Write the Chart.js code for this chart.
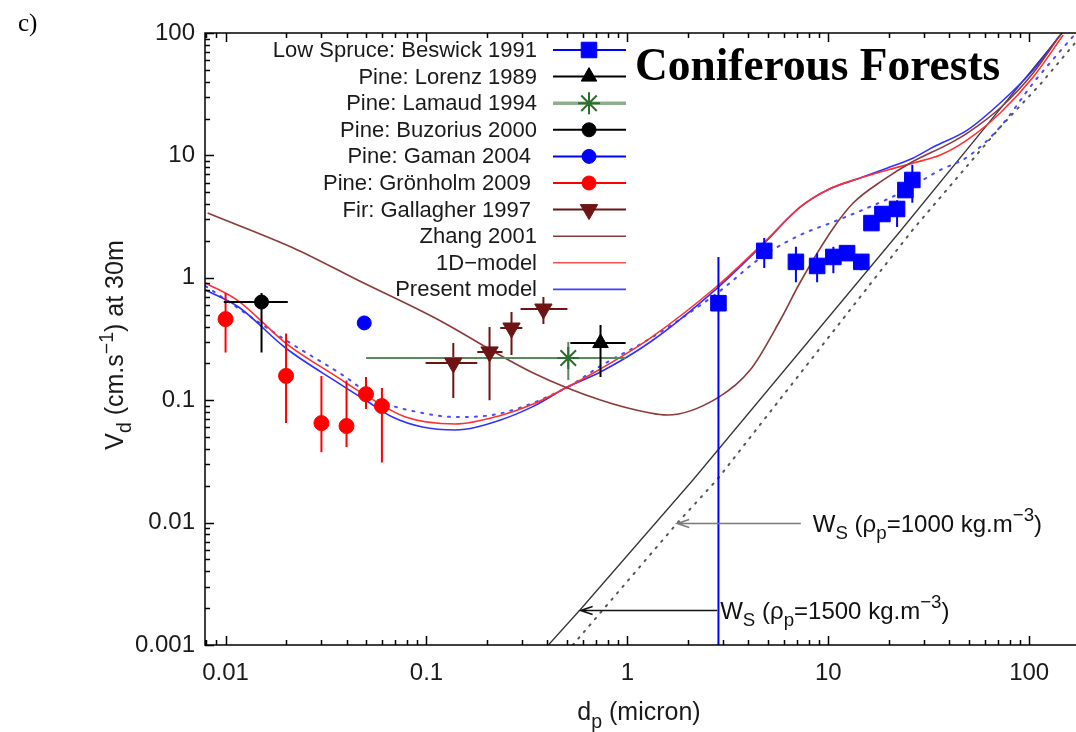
<!DOCTYPE html>
<html>
<head>
<meta charset="utf-8">
<script src="https://cdn.jsdelivr.net/npm/chart.js@4.4.1/dist/chart.umd.min.js"></script>
<style>
  html, body { margin: 0; padding: 0; background: #fff; overflow: hidden; }
  #wrap { position: relative; width: 1076px; height: 732px; }
</style>
</head>
<body>
<div id="wrap"><canvas id="vdChart"></canvas></div>
<script>
// axes
const xRange = [0.0079, 171];
const yRange = [0.001, 100];
const xTickVals = [0.01, 0.1, 1, 10, 100];
const xTickLabels = ['0.01', '0.1', '1', '10', '100'];
const yTickVals = [0.001, 0.01, 0.1, 1, 10, 100];
const yTickLabels = ['0.001', '0.01', '0.1', '1', '10', '100'];

// Low Spruce: Beswick 1991
const beswickX  = [2.84, 4.8, 6.9, 8.8, 10.6, 12.4, 14.6, 16.4, 18.6, 22.0, 24.2, 26.2];
const beswickY  = [0.62, 1.66, 1.35, 1.25, 1.48, 1.59, 1.35, 2.8, 3.32, 3.65, 5.21, 6.3];
const beswickLo = [0.0008, 1.2, 0.92, 0.92, 1.09, 1.45, 1.15, 2.55, 3.0, 2.6, 4.7, 4.1];
const beswickHi = [1.48, 2.11, 1.79, 1.59, 1.79, 1.75, 1.5, 3.1, 3.6, 4.3, 5.7, 8.4];

// Pine: Lorenz 1989
const lorenzX = [0.735], lorenzY = [0.293];
const lorenzLo = [0.155], lorenzHi = [0.411];
const lorenzXLo = [0.52], lorenzXHi = [0.98];

// Pine: Lamaud 1994
const lamaudX = [0.508], lamaudY = [0.221];
const lamaudLo = [0.146], lamaudHi = [0.299];
const lamaudXLo = [0.05], lamaudXHi = [0.98];

// Pine: Buzorius 2000
const buzoriusX = [0.0151], buzoriusY = [0.634];
const buzoriusLo = [0.245], buzoriusHi = [0.751];
const buzoriusXLo = [0.0098], buzoriusXHi = [0.0204];

// Pine: Gaman 2004
const gamanX = [0.049], gamanY = [0.428];

// Pine: Grönholm 2009
const gronX  = [0.01, 0.02, 0.03, 0.04, 0.05, 0.06];
const gronY  = [0.46, 0.158, 0.065, 0.0615, 0.112, 0.0896];
const gronLo = [0.245, 0.065, 0.0375, 0.0415, 0.0848, 0.031];
const gronHi = [0.751, 0.35, 0.158, 0.145, 0.155, 0.126];

// Fir: Gallagher 1997
const gallX   = [0.136, 0.206, 0.265, 0.382];
const gallY   = [0.201, 0.248, 0.389, 0.556];
const gallLo  = [0.104, 0.100, 0.234, 0.42];
const gallHi  = [0.293, 0.396, 0.526, 0.697];
const gallXLo = [0.099, 0.179, 0.233, 0.294];
const gallXHi = [0.179, 0.239, 0.30, 0.503];

// model curves
const zhangX = [0.00814, 0.0228, 0.0454, 0.108, 0.34, 0.734, 1.30, 1.58, 2.80, 4.09, 5.77, 7.26, 10.6, 13.3, 18.8, 25.6, 40.5, 49.2, 71.7, 104.7, 142.6];
const zhangY = [3.38, 1.69, 0.96, 0.478, 0.167, 0.1004, 0.0786, 0.0757, 0.104, 0.177, 0.452, 0.924, 2.55, 4.08, 6.3, 8.67, 12.6, 15.2, 24.4, 47.1, 96.3];

const oneDX = [0.00795, 0.0116, 0.0199, 0.0365, 0.0497, 0.0786, 0.139, 0.2335, 0.34, 0.503, 0.734, 1.30, 2.80, 4.75, 7.26, 9.89, 14.4, 19.7, 26.5, 36.1, 49.2, 71.7, 104.7, 147.6];
const oneDY = [0.907, 0.646, 0.293, 0.152, 0.110, 0.0729, 0.0639, 0.075, 0.093, 0.128, 0.18, 0.322, 0.857, 1.92, 3.79, 5.22, 6.54, 7.6, 8.67, 10.08, 13.4, 22.2, 43.7, 96.3];

const presX = [0.00795, 0.0116, 0.0199, 0.0365, 0.0497, 0.0677, 0.0955, 0.139, 0.2335, 0.34, 0.503, 0.734, 1.30, 2.80, 4.75, 7.26, 9.89, 14.4, 19.7, 26.5, 33.3, 49.2, 71.7, 104.7, 142.6];
const presY = [0.795, 0.577, 0.267, 0.138, 0.100, 0.0729, 0.0604, 0.0571, 0.069, 0.089, 0.128, 0.170, 0.299, 0.825, 1.89, 3.79, 5.22, 6.54, 7.89, 9.52, 11.7, 16.1, 26.8, 49.9, 96.3];

const dotX = [0.00795, 0.0199, 0.0395, 0.0577, 0.0955, 0.139, 0.2335, 0.503, 0.734, 1.30, 2.80, 4.75, 7.26, 10.59, 15.63, 22.8, 36.1, 49.2, 71.7, 104.7, 154.6, 171];
const dotY = [0.857, 0.31, 0.155, 0.100, 0.0786, 0.0729, 0.078, 0.128, 0.19, 0.32, 0.751, 1.51, 2.24, 2.86, 3.72, 4.93, 7.6, 9.70, 17.06, 39.0, 82.8, 100];

// settling velocity lines
const ws1500X = [0.4045, 0.5836, 2.13, 22.8, 71.7, 146];
const ws1500Y = [0.001, 0.00195, 0.0225, 2.4, 24, 100];
const ws1000X = [0.535, 1.77, 2.80, 26.5, 71.7, 113.4, 171.4];
const ws1000Y = [0.001, 0.0099, 0.0225, 2.5, 17, 38, 85];

// arrow annotations (1000, 1500)
const wsDensity = ['1000', '1500'];
const wsArrowY = [0.0099, 0.00193];
const wsArrowTipX = [1.77, 0.585];
const wsArrowTailX = [7.3, 2.8];

function zip(xs, ys) {
    return xs.map((x, i) => ({ x: x, y: ys[i] }));
}

// error bars as broken line segments
function errorBars(xs, ys, lo, hi, xlo, xhi) {
    const pts = [];
    xs.forEach((x, i) => {
        if (lo) pts.push({ x: x, y: lo[i] }, { x: x, y: hi[i] }, { x: x, y: null });
        if (xlo) pts.push({ x: xlo[i], y: ys[i] }, { x: xhi[i], y: ys[i] }, { x: x, y: null });
    });
    return pts;
}

function markerSet(label, xs, ys, style, color, radius, rotation) {
    return {
        label: label,
        data: zip(xs, ys),
        pointStyle: style,
        pointRadius: radius,
        pointRotation: rotation || 0,
        backgroundColor: color,
        borderColor: color,
        borderWidth: style === 'star' ? 2 : 1,
        showLine: false,
        order: 0
    };
}

function barSet(data, color, width) {
    return {
        data: data,
        showLine: true,
        spanGaps: false,
        pointRadius: 0,
        borderColor: color,
        borderWidth: width || 2,
        tension: 0,
        order: 1
    };
}

function curveSet(label, xs, ys, color, width, dash) {
    return {
        label: label,
        data: zip(xs, ys),
        showLine: true,
        pointRadius: 0,
        borderColor: color,
        borderWidth: width,
        borderDash: dash || [],
        borderCapStyle: dash ? 'round' : 'butt',
        cubicInterpolationMode: 'monotone',
        order: 2
    };
}

const datasets = [
    markerSet('Low Spruce: Beswick 1991', beswickX, beswickY, 'rect', '#0000ff', 11),
    markerSet('Pine: Lorenz 1989', lorenzX, lorenzY, 'triangle', '#000000', 9),
    markerSet('Pine: Lamaud 1994', lamaudX, lamaudY, 'star', '#2d6e2d', 11),
    markerSet('Pine: Buzorius 2000', buzoriusX, buzoriusY, 'circle', '#000000', 7),
    markerSet('Pine: Gaman 2004', gamanX, gamanY, 'circle', '#0000ff', 7),
    markerSet('Pine: Grönholm 2009', gronX, gronY, 'circle', '#ff0000', 7.5),
    markerSet('Fir: Gallagher 1997', gallX, gallY, 'triangle', '#6e1414', 10, 180),
    barSet(errorBars(beswickX, beswickY, beswickLo, beswickHi), '#0000ff'),
    barSet(errorBars(lorenzX, lorenzY, lorenzLo, lorenzHi, lorenzXLo, lorenzXHi), '#000000'),
    barSet(errorBars(lamaudX, lamaudY, lamaudLo, lamaudHi, lamaudXLo, lamaudXHi), '#5a8a5a'),
    barSet(errorBars(buzoriusX, buzoriusY, buzoriusLo, buzoriusHi, buzoriusXLo, buzoriusXHi), '#000000'),
    barSet(errorBars(gronX, gronY, gronLo, gronHi), '#ff0000'),
    barSet(errorBars(gallX, gallY, gallLo, gallHi, gallXLo, gallXHi), '#6e1414'),
    curveSet('Zhang 2001', zhangX, zhangY, '#8b3a3a', 1.6),
    curveSet('1D-model', oneDX, oneDY, '#ff3030', 1.6),
    curveSet('Present model', presX, presY, '#3030ff', 1.6),
    curveSet('dotted', dotX, dotY, '#4a4aff', 2, [2, 7]),
    curveSet('Ws 1500', ws1500X, ws1500Y, '#333333', 1.3),
    curveSet('Ws 1000', ws1000X, ws1000Y, '#555555', 2, [1.5, 7])
];
datasets[datasets.length - 1].cubicInterpolationMode = 'default';
datasets[datasets.length - 2].cubicInterpolationMode = 'default';

// legend rows: label, line colour, marker
const legendRows = [
    { text: 'Low Spruce: Beswick 1991', line: '#0000ff', lw: 2, marker: { pointStyle: 'rect', radius: 11, color: '#0000ff' } },
    { text: 'Pine: Lorenz 1989', line: '#000000', lw: 2, marker: { pointStyle: 'triangle', radius: 9, color: '#000000' } },
    { text: 'Pine: Lamaud 1994', line: '#8fae8f', lw: 3.5, marker: { pointStyle: 'star', radius: 11, color: '#2d6e2d', bw: 2 } },
    { text: 'Pine: Buzorius 2000', line: '#000000', lw: 2, marker: { pointStyle: 'circle', radius: 7, color: '#000000' } },
    { text: 'Pine: Gaman 2004 ', line: '#0000ff', lw: 2, marker: { pointStyle: 'circle', radius: 7, color: '#0000ff' } },
    { text: 'Pine: Grönholm 2009 ', line: '#ff0000', lw: 2, marker: { pointStyle: 'circle', radius: 7, color: '#ff0000' } },
    { text: 'Fir: Gallagher 1997 ', line: '#6e1414', lw: 2, marker: { pointStyle: 'triangle', radius: 10, rotation: 180, color: '#6e1414' } },
    { text: 'Zhang 2001', line: '#8b3a3a', lw: 1.6 },
    { text: '1D\u2212model', line: '#ff5050', lw: 1.6 },
    { text: 'Present model', line: '#4040ff', lw: 1.6 }
];

const FONT = '"Liberation Sans", Arial, sans-serif';

function richWidth(ctx, parts, size) {
    let w = 0;
    parts.forEach(p => {
        ctx.font = (p[1] ? size * 0.78 : size) + 'px ' + FONT;
        w += ctx.measureText(p[0]).width;
    });
    return w;
}

function drawRich(ctx, parts, x, y, size, align) {
    const w = richWidth(ctx, parts, size);
    let cx = align === 'center' ? x - w / 2 : x;
    ctx.textBaseline = 'alphabetic';
    ctx.textAlign = 'left';
    parts.forEach(p => {
        ctx.font = (p[1] ? size * 0.78 : size) + 'px ' + FONT;
        let dy = 0;
        if (p[1] === 'sub') dy = size * 0.3;
        if (p[1] === 'sup') dy = -size * 0.42;
        ctx.fillText(p[0], cx, y + dy);
        cx += ctx.measureText(p[0]).width;
    });
}

const decorPlugin = {
    id: 'decor',
    afterDatasetsDraw(chart) {
        const ctx = chart.ctx;
        const xs = chart.scales.x, ys = chart.scales.y;
        ctx.save();

        // settling velocity arrows + labels
        wsDensity.forEach((d, i) => {
            const py = Math.round(ys.getPixelForValue(wsArrowY[i])) + 0.5;
            const tip = xs.getPixelForValue(wsArrowTipX[i]);
            const tail = xs.getPixelForValue(wsArrowTailX[i]);
            ctx.strokeStyle = i === 0 ? '#7a7a7a' : '#111111';
            ctx.lineWidth = 1.5;
            ctx.beginPath();
            ctx.moveTo(tail, py); ctx.lineTo(tip, py);
            ctx.moveTo(tip + 12, py - 4); ctx.lineTo(tip, py); ctx.lineTo(tip + 12, py + 4);
            ctx.stroke();
            ctx.fillStyle = '#111111';
            drawRich(ctx, [['W', ''], ['S', 'sub'], [' (', ''], ['\u03c1', ''], ['p', 'sub'],
                ['=' + d + ' kg.m', ''], ['\u22123', 'sup'], [')', '']],
                tail + (i === 0 ? 12 : 3), py + 8, 24);
        });

        // legend
        legendRows.forEach((r, i) => {
            const y = 50 + i * 26.6;
            ctx.fillStyle = '#1a1a1a';
            ctx.textAlign = 'right';
            ctx.textBaseline = 'middle';
            ctx.font = '22px ' + FONT;
            ctx.fillText(r.text, 537, y + 1);
            ctx.strokeStyle = r.line;
            ctx.lineWidth = r.lw;
            ctx.setLineDash([]);
            ctx.beginPath();
            ctx.moveTo(553, y); ctx.lineTo(626, y);
            ctx.stroke();
            if (r.marker && Chart.helpers && Chart.helpers.drawPoint) {
                ctx.fillStyle = r.marker.color;
                ctx.strokeStyle = r.marker.color;
                ctx.lineWidth = r.marker.bw || 1;
                Chart.helpers.drawPoint(ctx, {
                    pointStyle: r.marker.pointStyle,
                    radius: r.marker.radius,
                    rotation: r.marker.rotation || 0,
                    borderWidth: r.marker.bw || 1
                }, 589, y);
            }
        });
        ctx.restore();
    },
    afterDraw(chart) {
        const ctx = chart.ctx;
        const a = chart.chartArea;
        const xs = chart.scales.x, ys = chart.scales.y;
        ctx.save();
        ctx.strokeStyle = '#000';
        ctx.lineWidth = 1.5;
        ctx.setLineDash([]);
        ctx.beginPath();
        for (let e = -3; e <= 2; e++) {
            for (let k = 1; k <= 9; k++) {
                const v = k * Math.pow(10, e);
                const len = k === 1 ? 9 : 5;
                if (v >= xRange[0] && v <= xRange[1]) {
                    const px = Math.round(xs.getPixelForValue(v)) + 0.5;
                    ctx.moveTo(px, a.bottom); ctx.lineTo(px, a.bottom - len);
                    ctx.moveTo(px, a.top); ctx.lineTo(px, a.top + len);
                }
                if (v >= yRange[0] && v <= yRange[1]) {
                    const py = Math.round(ys.getPixelForValue(v)) + 0.5;
                    ctx.moveTo(a.left, py); ctx.lineTo(a.left + len, py);
                }
            }
        }
        // frame: right side lies outside the picture
        ctx.moveTo(a.right + 2, a.top); ctx.lineTo(a.left, a.top);
        ctx.lineTo(a.left, a.bottom); ctx.lineTo(a.right + 2, a.bottom);
        ctx.stroke();

        // axis titles
        ctx.fillStyle = '#1a1a1a';
        drawRich(ctx, [['d', ''], ['p', 'sub'], [' (micron)', '']], 639, 720, 25, 'center');
        ctx.save();
        ctx.translate(123, 345);
        ctx.rotate(-Math.PI / 2);
        drawRich(ctx, [['V', ''], ['d', 'sub'], [' (cm.s', ''], ['\u22121', 'sup'], [') at 30m', '']], 0, 0, 25, 'center');
        ctx.restore();

        // panel letter and title
        ctx.fillStyle = '#000';
        ctx.textAlign = 'left';
        ctx.textBaseline = 'alphabetic';
        ctx.font = '25px "Liberation Serif", serif';
        ctx.fillText('c)', 18, 31);
        let size = 40;
        ctx.font = 'bold ' + size + 'px "Liberation Serif", serif';
        size = size * 365 / ctx.measureText('Coniferous Forests').width;
        ctx.font = 'bold ' + size.toFixed(1) + 'px "Liberation Serif", serif';
        ctx.fillText('Coniferous Forests', 635, 80);
        ctx.restore();
    }
};

Chart.defaults.font.family = FONT;
Chart.defaults.color = '#1a1a1a';

new Chart(document.getElementById('vdChart'), {
    type: 'scatter',
    data: { datasets: datasets },
    options: {
        responsive: true,
        maintainAspectRatio: false,
        animation: false,
        events: [],
        layout: { autoPadding: false, padding: { top: 33, right: 0, bottom: 0, left: 0 } },
        plugins: {
            legend: { display: false },
            tooltip: { enabled: false }
        },
        scales: {
            x: {
                type: 'logarithmic',
                min: xRange[0],
                max: xRange[1],
                grid: { display: false, drawTicks: false },
                border: { display: false },
                afterBuildTicks: (scale) => { scale.ticks = xTickVals.map(v => ({ value: v })); },
                afterFit: (scale) => { scale.height = 87; scale.paddingLeft = 0; scale.paddingRight = 0; },
                ticks: {
                    autoSkip: false,
                    maxRotation: 0,
                    padding: 14,
                    color: '#1a1a1a',
                    font: { size: 24 },
                    callback: (v, i) => xTickLabels[i]
                }
            },
            y: {
                type: 'logarithmic',
                min: yRange[0],
                max: yRange[1],
                grid: { display: false, drawTicks: false },
                border: { display: false },
                afterBuildTicks: (scale) => { scale.ticks = yTickVals.map(v => ({ value: v })); },
                afterFit: (scale) => { scale.width = 205; },
                ticks: {
                    autoSkip: false,
                    padding: 10,
                    color: '#1a1a1a',
                    font: { size: 24 },
                    callback: (v, i) => yTickLabels[i]
                }
            }
        }
    },
    plugins: [decorPlugin]
});
</script>
</body>
</html>
